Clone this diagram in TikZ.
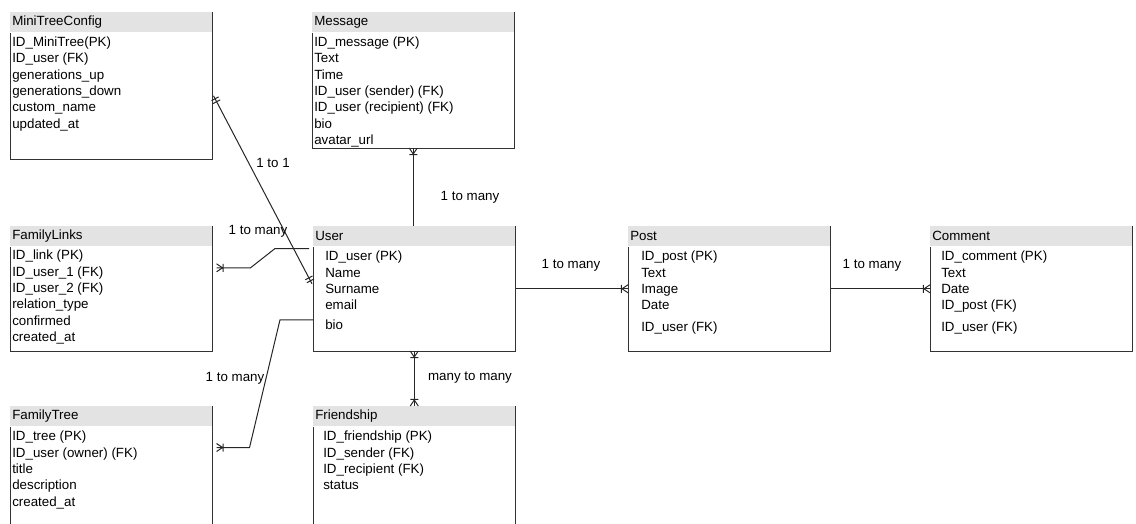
\documentclass[tikz,border=0pt]{standalone}
\usepackage{fontspec}
\setmainfont{Liberation Sans}
\usetikzlibrary{calc}

% crow foot with a bar (one or many)
\pgfdeclarearrow{
  name = crowbar,
  setup code = {
    \pgfarrowssettipend{0pt}
    \pgfarrowssetlineend{0pt}
    \pgfarrowssetbackend{-5.25pt}
    \pgfarrowssetvisualbackend{-5.25pt}
  },
  drawing code = {
    \pgfpathmoveto{\pgfqpoint{0pt}{3pt}}
    \pgfpathlineto{\pgfqpoint{-4.5pt}{0pt}}
    \pgfpathlineto{\pgfqpoint{0pt}{-3pt}}
    \pgfpathmoveto{\pgfqpoint{-4.9pt}{3pt}}
    \pgfpathlineto{\pgfqpoint{-4.9pt}{-3pt}}
    \pgfusepathqstroke
  }
}
% two bars (one and only one)
\pgfdeclarearrow{
  name = mandone,
  setup code = {
    \pgfarrowssettipend{0pt}
    \pgfarrowssetlineend{0pt}
    \pgfarrowssetbackend{-5.25pt}
    \pgfarrowssetvisualbackend{-5.25pt}
  },
  drawing code = {
    \pgfpathmoveto{\pgfqpoint{-2.5pt}{3pt}}
    \pgfpathlineto{\pgfqpoint{-2.5pt}{-3pt}}
    \pgfpathmoveto{\pgfqpoint{-5pt}{3pt}}
    \pgfpathlineto{\pgfqpoint{-5pt}{-3pt}}
    \pgfusepathqstroke
  }
}

\tikzstyle{entity} = [rectangle, fill=gray!22, anchor=north west, inner xsep=1.5pt, inner ysep=0pt, text width=148.5pt, minimum height=15pt, align=left]
\tikzstyle{entitybody} = [rectangle, anchor=north west, inner sep=0pt, minimum width=151.5pt]
\tikzstyle{fieldlist} = [anchor=north west, inner sep=0pt, align=left]
\tikzstyle{boxline} = [draw=black!80, line width=0.75pt]
\tikzstyle{relline} = [draw=black!85, line width=0.75pt]
\tikzstyle{reltext} = [inner sep=0pt]

\begin{document}
\begin{tikzpicture}[x=0.75pt, y=-0.75pt, font=\fontsize{10}{12.3}\selectfont]
    \useasboundingbox (0,0) rectangle (1136,524);
    \clip (0,0) rectangle (1136,524);

    % left column
    \node [entity] (mini) at (10,12) {MiniTreeConfig};
    \node [entitybody, minimum height=94.5pt] (mini body) at (mini.south west) {};
    \node [fieldlist] (mini fields) at ($(mini body.north west)+(2,2)$) {\strut ID\_MiniTree(PK)\\ID\_user (FK)\\generations\_up\\generations\_down\\custom\_name\\updated\_at};
    \draw [boxline] (mini.north east) -- (mini body.south east) -- (mini body.south west) -- (mini body.north west);

    \node [entity] (links) at (10,226) {FamilyLinks};
    \node [entitybody, minimum height=78pt] (links body) at (links.south west) {};
    \node [fieldlist] (links fields) at ($(links body.north west)+(2,1.5)$) {\strut ID\_link (PK)\\ID\_user\_1 (FK)\\ID\_user\_2 (FK)\\relation\_type\\confirmed\\created\_at};
    \draw [boxline] (links.north east) -- (links body.south east) -- (links body.south west) -- (links body.north west);

    \node [entity] (tree) at (10,406) {FamilyTree};
    \node [entitybody, minimum height=85.5pt] (tree body) at (tree.south west) {};
    \node [fieldlist] (tree fields) at ($(tree body.north west)+(2,2.5)$) {\strut ID\_tree (PK)\\ID\_user (owner) (FK)\\title\\description\\created\_at};
    \draw [boxline] (tree.north east) -- (tree body.south east) -- (tree body.south west) -- (tree body.north west);

    % middle column
    \node [entity] (message) at (312,12) {Message};
    \node [entitybody, minimum height=86.25pt] (message body) at (message.south west) {};
    \node [fieldlist] (message fields) at ($(message body.north west)+(2,2)$) {\strut ID\_message (PK)\\Text\\Time\\ID\_user (sender) (FK)\\ID\_user (recipient) (FK)\\bio\\avatar\_url};
    \draw [boxline] (message.north east) -- (message body.south east) -- (message body.south west) -- (message body.north west);

    \node [entity] (user) at (313,226) {User};
    \node [entitybody, minimum height=78pt] (user body) at (user.south west) {};
    \node [fieldlist] (user fields) at ($(user body.north west)+(12,2.5)$) {\strut ID\_user (PK)\\Name\\Surname\\email\\[2.7pt]bio};
    \draw [boxline] (user.north east) -- (user body.south east) -- (user body.south west) -- (user body.north west);

    \node [entity] (friendship) at (313,406) {Friendship};
    \node [entitybody, minimum height=85.5pt] (friendship body) at (friendship.south west) {};
    \node [fieldlist] (friendship fields) at ($(friendship body.north west)+(10,2.5)$) {\strut ID\_friendship (PK)\\ID\_sender (FK)\\ID\_recipient (FK)\\status};
    \draw [boxline] (friendship.north east) -- (friendship body.south east) -- (friendship body.south west) -- (friendship body.north west);

    % right side
    \node [entity] (post) at (628,226) {Post};
    \node [entitybody, minimum height=78pt] (post body) at (post.south west) {};
    \node [fieldlist] (post fields) at ($(post body.north west)+(13,2.5)$) {\strut ID\_post (PK)\\Text\\Image\\Date\\[3.5pt]ID\_user (FK)};
    \draw [boxline] (post.north east) -- (post body.south east) -- (post body.south west) -- (post body.north west);

    \node [entity] (comment) at (930,226) {Comment};
    \node [entitybody, minimum height=78pt] (comment body) at (comment.south west) {};
    \node [fieldlist] (comment fields) at ($(comment body.north west)+(11,2.5)$) {\strut ID\_comment (PK)\\Text\\Date\\ID\_post (FK)\\[3.5pt]ID\_user (FK)};
    \draw [boxline] (comment.north east) -- (comment body.south east) -- (comment body.south west) -- (comment body.north west);

    % relations
    \draw [relline, mandone-mandone] ($(mini body.east)+(1,0)$) -- ($(user body.west)+(-1,-15)$);
    \draw [relline, -crowbar] ($(user body.north west)+(-4,2)$) -- ++(-34,0) -- ($(links body.east)+(38,-31)$) -- ($(links body.east)+(4,-31)$);
    \draw [relline, -crowbar] ($(user body.west)+(0,21)$) -- ++(-33,0) -- ($(tree.south east)+(37,21)$) -- ($(tree.south east)+(4,21)$);
    \draw [relline, -crowbar] (user.north -| message body.south) -- (message body.south);
    \draw [relline, crowbar-crowbar] (user body.south) -- (friendship.north);
    \draw [relline, -crowbar] ($(user body.east)+(0,-10)$) -- ($(post body.west)+(0,-10)$);
    \draw [relline, -crowbar] ($(post body.east)+(0,-10)$) -- ($(comment body.west)+(0,-10)$);

    \node [reltext] (one one) at (273,163) {1 to 1};
    \node [reltext] (links many) at (258,231) {1 to many};
    \node [reltext] (tree many) at (235,378) {1 to many};
    \node [reltext] (message many) at (470,197) {1 to many};
    \node [reltext] (friend many) at (470,378) {many to many};
    \node [reltext] (post many) at (571,265) {1 to many};
    \node [reltext] (comment many) at (872,265) {1 to many};
\end{tikzpicture}
\end{document}
